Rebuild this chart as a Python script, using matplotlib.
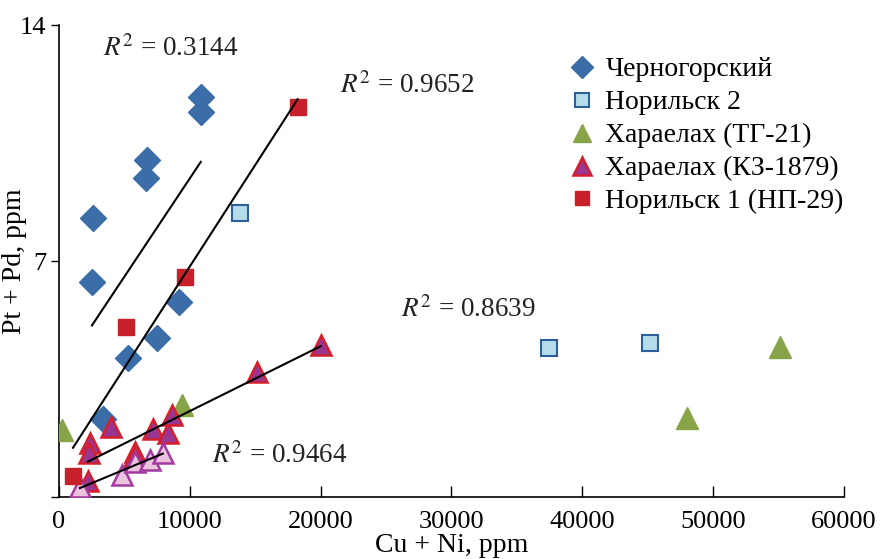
import numpy as np
import matplotlib
matplotlib.use("Agg")
import matplotlib.pyplot as plt

plt.rcParams['font.family'] = ['Liberation Serif', 'DejaVu Serif']
plt.rcParams['mathtext.fontset'] = 'stix'

# Черногорский
cher_x = [10840, 10840, 6720, 6640, 2600, 2520, 9160, 7480, 5270, 3360]
cher_y = [11.87, 11.42, 10.0, 9.47, 8.28, 6.38, 5.79, 4.72, 4.12, 2.31]

# Норильск 2
nor2_x = [13820, 37480, 45190]
nor2_y = [8.43, 4.42, 4.57]

# Хараелах (ТГ-21)
tg_x = [230, 9390, 48020, 55110]
tg_y = [1.99, 2.73, 2.34, 4.45]

# Хараелах (КЗ-1879)
kz_x = [2370, 2290, 3970, 2210, 5800, 5730, 7180, 8320, 8630, 15110, 20000]
kz_y = [1.60, 1.31, 2.08, 0.47, 1.34, 1.19, 2.02, 1.90, 2.43, 3.71, 4.51]

# unlabelled pink series
pink_x = [1600, 4810, 5800, 6950, 7940]
pink_y = [0.30, 0.65, 1.04, 1.10, 1.31]

# Норильск 1 (НП-29)
nor1_x = [18240, 9620, 5110, 1070]
nor1_y = [11.57, 6.53, 5.04, 0.62]

r2_labels = ['0.3144', '0.9652', '0.8639', '0.9464']


def trend(ax, xs, ys):
    k, b = np.polyfit(xs, ys, 1)
    xx = np.array([min(xs), max(xs)])
    ax.plot(xx, k * xx + b, color='black', lw=1.5, zorder=4)


fig = plt.figure(figsize=(8.8, 5.59), dpi=100)
ax = fig.add_axes([0.067, 0.111, 0.892, 0.844])

ax.plot(cher_x, cher_y, 'D', ms=13, color='#3b6ea8', mec='#3b6ea8', label='Черногорский', zorder=3)
ax.plot(nor2_x, nor2_y, 's', ms=12, color='#b5dde9', mec='#2e5f9a', mew=1.5, label='Норильск 2', zorder=3)
ax.plot(tg_x, tg_y, '^', ms=16, color='#87a548', mec='#87a548', label='Хараелах (ТГ-21)', zorder=3)
ax.plot(kz_x, kz_y, '^', ms=15, color='#9a3591', mec='#d4202a', mew=1.8, label='Хараелах (КЗ-1879)', zorder=3)
ax.plot(pink_x, pink_y, '^', ms=15, color='#ecc3de', mec='#a23a9f', mew=1.8, zorder=3)
ax.plot(nor1_x, nor1_y, 's', ms=12, color='#c8202a', mec='#c8202a', label='Норильск 1 (НП-29)', zorder=3)

trend(ax, cher_x, cher_y)
trend(ax, nor1_x, nor1_y)
trend(ax, kz_x, kz_y)
trend(ax, pink_x, pink_y)

txt = dict(fontsize=19.5, ha='left', va='center', color='#222222')
ax.text(3360, 13.32, r'$R^2$ = ' + r2_labels[0], **txt)
ax.text(21450, 12.20, r'$R^2$ = ' + r2_labels[1], **txt)
ax.text(26110, 5.55, r'$R^2$ = ' + r2_labels[2], **txt)
ax.text(11680, 1.22, r'$R^2$ = ' + r2_labels[3], **txt)

ax.set_xlim(0, 60000)
ax.set_ylim(0, 14)
ax.set_xticks(range(0, 60001, 10000))
ax.set_yticks([0, 7, 14])
ax.set_yticklabels(['', '7', '14'])
ax.tick_params(axis='x', direction='in', length=8, width=1, labelsize=19, pad=10)
ax.tick_params(axis='y', direction='out', length=6, width=1, labelsize=19, pad=3)
for s in ['top', 'right']:
    ax.spines[s].set_visible(False)
for s in ['left', 'bottom']:
    ax.spines[s].set_linewidth(1.2)

ax.set_xlabel('Cu + Ni, ppm', fontsize=20, labelpad=0)
ax.set_ylabel('Pt + Pd, ppm', fontsize=20)
ax.yaxis.set_label_coords(-0.041, 0.5)

ax.legend(loc='upper left', bbox_to_anchor=(0.629, 0.962), frameon=False, fontsize=20,
          handletextpad=0.3, labelspacing=0.27, handlelength=1.1, borderpad=0,
          markerscale=0.85)

fig.savefig('out.png', dpi=100)
